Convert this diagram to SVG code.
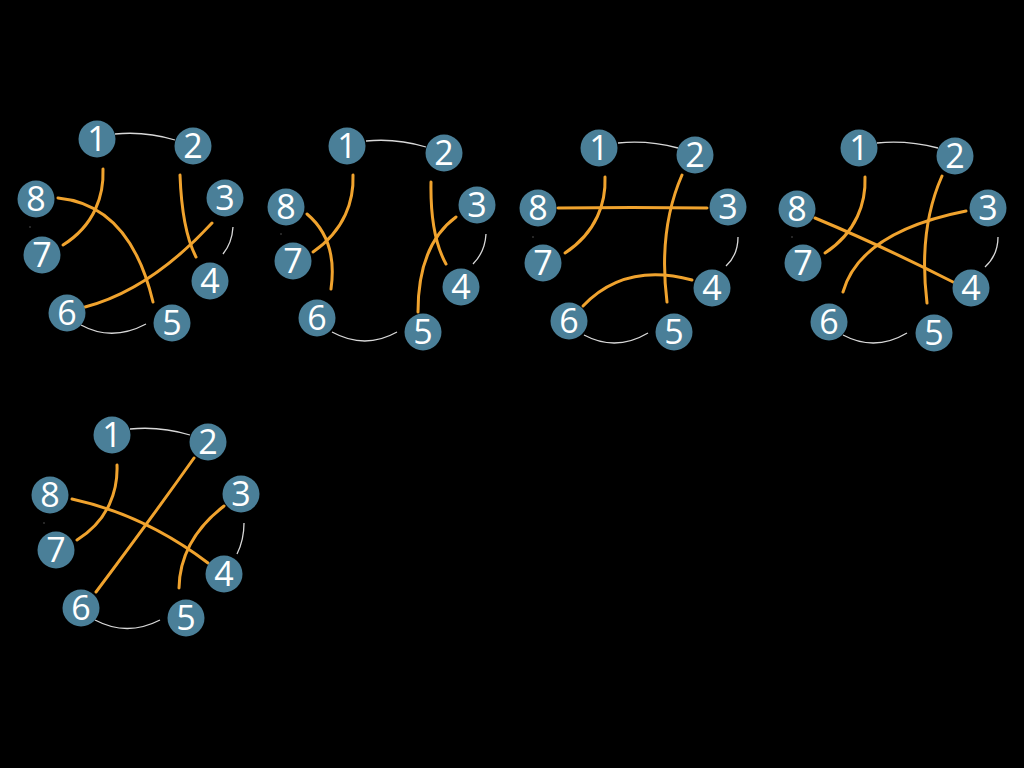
<svg xmlns="http://www.w3.org/2000/svg" width="1024" height="768" viewBox="0 0 1024 768">
<style>
.bg{fill:#000}
.n circle{fill:#4a7f98}
.n text{fill:#fff;font-family:"Open Sans","Liberation Sans",sans-serif;font-size:34px;font-weight:400;text-anchor:middle}
.g{fill:none;stroke:#d8d8d8;stroke-width:1.3}
.o{fill:none;stroke:#f0a32e;stroke-width:3;stroke-linecap:round}
.d{fill:#555}
</style>
<rect class="bg" width="1024" height="768"/>
<g id="connectors">
<!-- diagram 1 -->
<path class="g" d="M115,134 Q145,131 175,140"/>
<path class="g" d="M233,227 Q232,243 223,254"/>
<path class="g" d="M81,325 Q112,342 146,324"/>
<circle class="d" cx="30" cy="227" r="0.8"/>
<path class="o" d="M103,169 C104,195 95,225 63,245"/>
<path class="o" d="M180,175 Q182,230 196,257"/>
<path class="o" d="M58,198 Q130,205 153,302"/>
<path class="o" d="M212,223 Q150,290 85,307"/>
<!-- diagram 2 -->
<path class="g" d="M366,141 Q396,138 426,147"/>
<path class="g" d="M486,234 Q485,252 473,264"/>
<path class="g" d="M332,332 Q365,350 397,332"/>
<circle class="d" cx="281" cy="234" r="0.8"/>
<path class="o" d="M353,175 C354,200 345,230 313,252"/>
<path class="o" d="M307,214 Q338,240 331,289"/>
<path class="o" d="M431,182 Q430,235 446,264"/>
<path class="o" d="M456,217 Q418,245 418,312"/>
<!-- diagram 3 -->
<path class="g" d="M618,143 Q648,140 678,148"/>
<path class="g" d="M738,237 Q738,255 726,266"/>
<path class="g" d="M584,335 Q616,352 648,333"/>
<circle class="d" cx="533" cy="237" r="0.8"/>
<path class="o" d="M558,208 Q632,207 707,208"/>
<path class="o" d="M605,177 C606,202 597,232 565,253"/>
<path class="o" d="M682,175 Q658,230 667,302"/>
<path class="o" d="M583,306 Q625,262 692,280"/>
<!-- diagram 4 -->
<path class="g" d="M877,143 Q907,140 938,148"/>
<path class="g" d="M998,237 Q998,255 985,267"/>
<path class="g" d="M843,335 Q875,352 907,333"/>
<circle class="d" cx="792" cy="237" r="0.8"/>
<path class="o" d="M865,177 C866,202 857,232 825,253"/>
<path class="o" d="M815,218 Q880,245 953,282"/>
<path class="o" d="M942,176 Q918,230 927,303"/>
<path class="o" d="M966,211 Q860,232 843,292"/>
<!-- diagram 5 -->
<path class="g" d="M130,429 Q160,426 190,435"/>
<path class="g" d="M244,523 Q244,540 237,554"/>
<path class="g" d="M95,620 Q127,637 160,620"/>
<circle class="d" cx="44" cy="523" r="0.8"/>
<path class="o" d="M117,465 C118,490 109,520 77,540"/>
<path class="o" d="M72,499 Q145,515 208,563"/>
<path class="o" d="M194,458 Q150,520 96,592"/>
<path class="o" d="M224,506 Q180,540 179,588"/>
</g>
<g id="diagram1">
<g id="d1n1" class="n"><circle cx="97" cy="139" r="18.5"/><text x="97" y="151">1</text></g>
<g id="d1n2" class="n"><circle cx="193" cy="146" r="18.5"/><text x="193" y="158">2</text></g>
<g id="d1n3" class="n"><circle cx="225" cy="198" r="18.5"/><text x="225" y="210">3</text></g>
<g id="d1n4" class="n"><circle cx="210" cy="281" r="18.5"/><text x="210" y="293">4</text></g>
<g id="d1n5" class="n"><circle cx="172" cy="323" r="18.5"/><text x="172" y="335">5</text></g>
<g id="d1n6" class="n"><circle cx="67" cy="313" r="18.5"/><text x="67" y="325">6</text></g>
<g id="d1n7" class="n"><circle cx="42" cy="255" r="18.5"/><text x="42" y="267">7</text></g>
<g id="d1n8" class="n"><circle cx="36" cy="199" r="18.5"/><text x="36" y="211">8</text></g>
</g>
<g id="diagram2">
<g id="d2n1" class="n"><circle cx="347" cy="146" r="18.5"/><text x="347" y="158">1</text></g>
<g id="d2n2" class="n"><circle cx="444" cy="153" r="18.5"/><text x="444" y="165">2</text></g>
<g id="d2n3" class="n"><circle cx="477" cy="205" r="18.5"/><text x="477" y="217">3</text></g>
<g id="d2n4" class="n"><circle cx="461" cy="287" r="18.5"/><text x="461" y="299">4</text></g>
<g id="d2n5" class="n"><circle cx="423" cy="332" r="18.5"/><text x="423" y="344">5</text></g>
<g id="d2n6" class="n"><circle cx="317" cy="318" r="18.5"/><text x="317" y="330">6</text></g>
<g id="d2n7" class="n"><circle cx="293" cy="261" r="18.5"/><text x="293" y="273">7</text></g>
<g id="d2n8" class="n"><circle cx="286" cy="207" r="18.5"/><text x="286" y="219">8</text></g>
</g>
<g id="diagram3">
<g id="d3n1" class="n"><circle cx="599" cy="148" r="18.5"/><text x="599" y="160">1</text></g>
<g id="d3n2" class="n"><circle cx="695" cy="155" r="18.5"/><text x="695" y="167">2</text></g>
<g id="d3n3" class="n"><circle cx="728" cy="207" r="18.5"/><text x="728" y="219">3</text></g>
<g id="d3n4" class="n"><circle cx="712" cy="288" r="18.5"/><text x="712" y="300">4</text></g>
<g id="d3n5" class="n"><circle cx="674" cy="332" r="18.5"/><text x="674" y="344">5</text></g>
<g id="d3n6" class="n"><circle cx="569" cy="321" r="18.5"/><text x="569" y="333">6</text></g>
<g id="d3n7" class="n"><circle cx="543" cy="263" r="18.5"/><text x="543" y="275">7</text></g>
<g id="d3n8" class="n"><circle cx="538" cy="208" r="18.5"/><text x="538" y="220">8</text></g>
</g>
<g id="diagram4">
<g id="d4n1" class="n"><circle cx="859" cy="148" r="18.5"/><text x="859" y="160">1</text></g>
<g id="d4n2" class="n"><circle cx="955" cy="156" r="18.5"/><text x="955" y="168">2</text></g>
<g id="d4n3" class="n"><circle cx="988" cy="208" r="18.5"/><text x="988" y="220">3</text></g>
<g id="d4n4" class="n"><circle cx="971" cy="288" r="18.5"/><text x="971" y="300">4</text></g>
<g id="d4n5" class="n"><circle cx="934" cy="333" r="18.5"/><text x="934" y="345">5</text></g>
<g id="d4n6" class="n"><circle cx="829" cy="322" r="18.5"/><text x="829" y="334">6</text></g>
<g id="d4n7" class="n"><circle cx="803" cy="263" r="18.5"/><text x="803" y="275">7</text></g>
<g id="d4n8" class="n"><circle cx="797" cy="209" r="18.5"/><text x="797" y="221">8</text></g>
</g>
<g id="diagram5">
<g id="d5n1" class="n"><circle cx="112" cy="435" r="18.5"/><text x="112" y="447">1</text></g>
<g id="d5n2" class="n"><circle cx="208" cy="442" r="18.5"/><text x="208" y="454">2</text></g>
<g id="d5n3" class="n"><circle cx="241" cy="494" r="18.5"/><text x="241" y="506">3</text></g>
<g id="d5n4" class="n"><circle cx="224" cy="574" r="18.5"/><text x="224" y="586">4</text></g>
<g id="d5n5" class="n"><circle cx="186" cy="618" r="18.5"/><text x="186" y="630">5</text></g>
<g id="d5n6" class="n"><circle cx="81" cy="608" r="18.5"/><text x="81" y="620">6</text></g>
<g id="d5n7" class="n"><circle cx="56" cy="550" r="18.5"/><text x="56" y="562">7</text></g>
<g id="d5n8" class="n"><circle cx="50" cy="495" r="18.5"/><text x="50" y="507">8</text></g>
</g>
</svg>
